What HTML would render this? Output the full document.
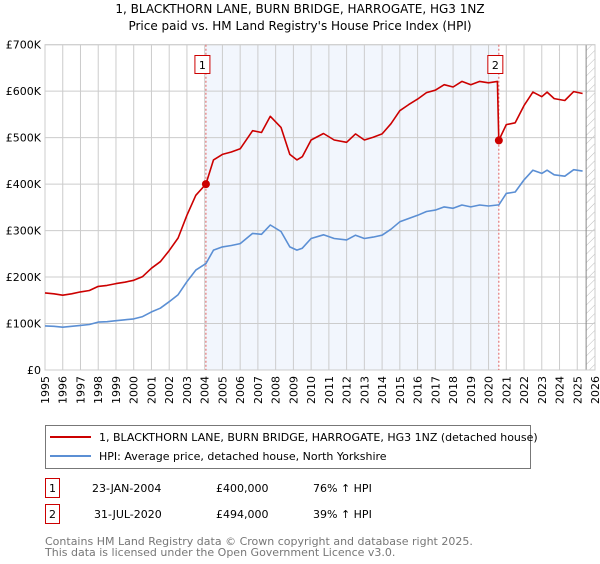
<!DOCTYPE html>
<html><head><meta charset="utf-8">
<style>
body{margin:0;background:#fff;font-family:"DejaVu Sans","Liberation Sans",sans-serif;}
svg text{font-family:"DejaVu Sans","Liberation Sans",sans-serif;}
</style></head>
<body>
<svg id="chart" width="600" height="560" viewBox="0 0 600 560" xmlns="http://www.w3.org/2000/svg">
<defs>
<pattern id="hatch" width="6" height="6" patternUnits="userSpaceOnUse" patternTransform="rotate(45)">
<line x1="0" y1="0" x2="0" y2="6" stroke="#bbb" stroke-width="1"/>
</pattern>
</defs>
<text x="300" y="13" text-anchor="middle" font-size="12" fill="#000">1, BLACKTHORN LANE, BURN BRIDGE, HARROGATE, HG3 1NZ</text>
<text x="300" y="30" text-anchor="middle" font-size="12" fill="#000">Price paid vs. HM Land Registry's House Price Index (HPI)</text>
<g id="plot"></g>
<rect x="45.5" y="425.5" width="485" height="43" fill="#fff" stroke="#777"/>
<line x1="50" y1="437" x2="91" y2="437" stroke="#cc0000" stroke-width="2"/>
<text x="99" y="441" font-size="11">1, BLACKTHORN LANE, BURN BRIDGE, HARROGATE, HG3 1NZ (detached house)</text>
<line x1="50" y1="456" x2="91" y2="456" stroke="#5b8fd4" stroke-width="2"/>
<text x="99" y="460" font-size="11">HPI: Average price, detached house, North Yorkshire</text>
<rect x="45.5" y="478.5" width="14" height="19" fill="#fff" stroke="#cc0000"/>
<text x="52.5" y="492" font-size="11" text-anchor="middle">1</text>
<text x="92" y="492" font-size="11">23-JAN-2004</text>
<text x="216" y="492" font-size="11">£400,000</text>
<text x="313" y="492" font-size="11">76% ↑ HPI</text>
<rect x="45.5" y="504.5" width="14" height="19" fill="#fff" stroke="#cc0000"/>
<text x="52.5" y="518" font-size="11" text-anchor="middle">2</text>
<text x="94" y="518" font-size="11">31-JUL-2020</text>
<text x="216" y="518" font-size="11">£494,000</text>
<text x="313" y="518" font-size="11">39% ↑ HPI</text>
<text x="45" y="545" font-size="11" fill="#777">Contains HM Land Registry data © Crown copyright and database right 2025.</text>
<text x="45" y="556" font-size="11" fill="#777">This data is licensed under the Open Government Licence v3.0.</text>
</svg>
<script>
const years = [1995,1995.5,1996,1996.5,1997,1997.5,1998,1998.5,1999,1999.5,2000,2000.5,2001,2001.5,2002,2002.5,2003,2003.5,2004.07,2004.5,2005,2005.5,2006,2006.7,2007.2,2007.7,2008.3,2008.8,2009.2,2009.5,2010,2010.7,2011.3,2012,2012.5,2013,2013.5,2014,2014.5,2015,2015.5,2016,2016.5,2017,2017.5,2018,2018.5,2019,2019.5,2020,2020.5,2020.58,2021,2021.5,2022,2022.5,2023,2023.3,2023.7,2024.3,2024.8,2025.3];
const hpiValues = [95,94,92,94,96,98,103,104,106,108,110,115,125,133,147,162,190,215,229,258,265,268,272,294,292,312,298,265,258,262,283,291,283,280,290,283,286,290,303,319,326,333,341,344,351,348,355,351,355,353,355,355,380,383,409,430,423,430,420,417,431,428];
const priceValues = [166,164,161,164,168,171,180,182,186,189,193,201,219,233,257,284,333,376,400,452,464,469,476,515,511,546,522,464,452,459,495,509,495,490,508,495,501,508,530,558,571,583,597,602,614,609,621,614,621,618,621,494,528,532,569,598,588,598,584,580,599,595];
const sales = [{n:'1', t:2004.07, v:400}, {n:'2', t:2020.58, v:494}];
const yTicks = [0,100,200,300,400,500,600,700];
const yLabels = ['£0','£100K','£200K','£300K','£400K','£500K','£600K','£700K'];
const xTicks = [1995,1996,1997,1998,1999,2000,2001,2002,2003,2004,2005,2006,2007,2008,2009,2010,2011,2012,2013,2014,2015,2016,2017,2018,2019,2020,2021,2022,2023,2024,2025,2026];
const todayYear = 2025.5;

const NS='http://www.w3.org/2000/svg';
const X0=45,X1=595,Y0=370,Y1=44.7;
const xs=t=>X0+(t-1995)/(2026-1995)*(X1-X0);
const ys=v=>Y0-v/700*(Y0-Y1);
const g=document.getElementById('plot');
function mk(tag,attrs,parent){const e=document.createElementNS(NS,tag);for(const k in attrs)e.setAttribute(k,attrs[k]);(parent||g).appendChild(e);return e;}

let r=mk('rect',{x:xs(sales[0].t),y:Y1,width:xs(sales[1].t)-xs(sales[0].t),height:Y0-Y1,fill:'#eef3fc',opacity:0.75});


let hz=mk('rect',{x:xs(todayYear),y:Y1,width:X1-xs(todayYear),height:Y0-Y1,fill:'url(#hatch)'});


xTicks.forEach(t=>{const l=mk('line',{x1:xs(t),x2:xs(t),y1:Y1,y2:Y0,stroke:'#ccc','stroke-width':1});

});
yTicks.forEach((v,i)=>{const l=mk('line',{x1:X0,x2:X1,y1:ys(v),y2:ys(v),stroke:'#ccc','stroke-width':1});


const t=mk('text',{x:X0-4,y:ys(v)+4,'text-anchor':'end','font-size':11,fill:'#000'});t.textContent=yLabels[i];

});
const tl=mk('line',{x1:xs(todayYear),x2:xs(todayYear),y1:Y1,y2:Y0,stroke:'#888','stroke-width':1});


const bd=mk('rect',{x:X0,y:Y1,width:X1-X0,height:Y0-Y1,fill:'none',stroke:'#ccc'});


xTicks.forEach(t=>{const e=mk('text',{transform:`translate(${xs(t)+4},376) rotate(-90)`,'text-anchor':'end','font-size':11,fill:'#000'});e.textContent=t;

});
sales.forEach(s=>{const l=mk('line',{x1:xs(s.t),x2:xs(s.t),y1:Y1,y2:Y0,stroke:'#e06060','stroke-width':1,'stroke-dasharray':'2,2'});


const b=mk('rect',{x:xs(s.t)-11,y:55.5,width:15,height:18,fill:'#fff',stroke:'#cc0000'});


const t=mk('text',{x:xs(s.t)-3.5,y:69,'text-anchor':'middle','font-size':11});t.textContent=s.n;});
function line(vals,color,name){const d=years.map((t,i)=>(i?'L':'M')+xs(t).toFixed(1)+','+ys(vals[i]).toFixed(1)).join('');
const p=mk('path',{d:d,fill:'none',stroke:color,'stroke-width':1.6,'stroke-linejoin':'round'});

}
line(hpiValues,'#5b8fd4','hpi-line');
line(priceValues,'#cc0000','price-line');
sales.forEach(s=>{const c=mk('circle',{cx:xs(s.t),cy:ys(s.v),r:4,fill:'#cc0000'});

});
</script>
</body></html>
